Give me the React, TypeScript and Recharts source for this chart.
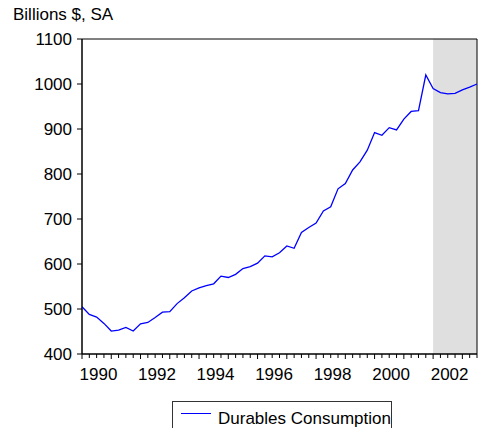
import React from 'react';
import { LineChart, Line, XAxis, YAxis, ReferenceArea } from 'recharts';

// Quarterly durables consumption, 1990Q1 onwards (billions $, SA)
const START_YEAR = 1990;
const durables = [
  505, 488, 482, 468, 451, 453, 459, 451, 467, 470, 481, 493, 494, 512, 525, 540,
  547, 552, 556, 573, 570, 577, 590, 594, 602, 618, 616, 625, 640, 635, 670, 681,
  691, 718, 727, 767, 779, 809, 827, 853, 892, 886, 903, 898, 922, 939, 941, 1020,
  990, 981, 978, 979, 987, 993, 1000,
];
const yTicks = [400, 500, 600, 700, 800, 900, 1000, 1100];
const yearLabels = ['1990', '1992', '1994', '1996', '1998', '2000', '2002'];
// forecast period shading starts at 2002Q1
const shadeStart = 48;

const FONT = '"Liberation Sans", Arial, sans-serif';

const data = durables.map((v, i) => ({ t: i, value: v }));
const lastIdx = durables.length - 1;
const quarterTicks = data.map(d => d.t);

const XTick = (props: any) => {
  const { x, y, payload } = props;
  const q = payload.value;
  const year = String(START_YEAR + q / 4);
  const isYear = q % 4 === 0;
  const labelled = isYear && yearLabels.includes(year);
  return (
    <g>
      <line x1={x} x2={x} y1={y} y2={y + (isYear ? 5 : 4)} stroke="#000" strokeWidth={1} />
      {labelled ? (
        <text x={x + 16.5} y={y + 26} textAnchor="middle" fontSize={17} fontFamily={FONT} fill="#000">
          {year}
        </text>
      ) : null}
    </g>
  );
};

const App: React.FC = () => {
  return (
    <div style={{ position: 'absolute', left: 0, top: 0, width: 478, height: 428, background: '#fff', overflow: 'hidden' }}>
      <div style={{ position: 'absolute', left: 13, top: 5, fontFamily: FONT, fontSize: 17, color: '#000', whiteSpace: 'nowrap' }}>
        Billions $, SA
      </div>
      <LineChart width={478} height={428} data={data} margin={{ top: 39, right: 1, bottom: 0, left: 0 }}>
        <ReferenceArea x1={shadeStart} x2={lastIdx} y1={400} y2={1100} fill="#dfdfdf" fillOpacity={1} stroke="none" />
        <XAxis
          dataKey="t"
          type="number"
          domain={[0, lastIdx]}
          ticks={quarterTicks}
          interval={0}
          tickSize={0}
          tickMargin={0}
          tickLine={false}
          tick={<XTick />}
          height={74}
          axisLine={{ stroke: '#000' }}
        />
        <YAxis
          type="number"
          domain={[400, 1100]}
          ticks={yTicks}
          interval={0}
          width={82}
          tickSize={5}
          tickMargin={5}
          tickLine={{ stroke: '#000' }}
          axisLine={{ stroke: '#000' }}
          tick={{ fontSize: 17, fontFamily: FONT, fill: '#000' }}
        />
        <Line type="linear" dataKey="value" stroke="#0000ff" strokeWidth={1.3} dot={false} isAnimationActive={false} />
        <ReferenceArea x1={0} x2={lastIdx} y1={400} y2={1100} fill="none" stroke="#000" strokeWidth={1} />
      </LineChart>
      <div
        style={{
          position: 'absolute', left: 172, top: 401, width: 218, height: 40,
          border: '1px solid #333', background: '#fff', fontFamily: FONT, fontSize: 17,
        }}
      >
        <div style={{ position: 'absolute', left: 8, top: 11, width: 30, height: 0, borderTop: '1px solid #0000ff' }} />
        <div style={{ position: 'absolute', left: 45, top: 7, whiteSpace: 'nowrap', color: '#000' }}>Durables Consumption</div>
      </div>
    </div>
  );
};

export default App;
